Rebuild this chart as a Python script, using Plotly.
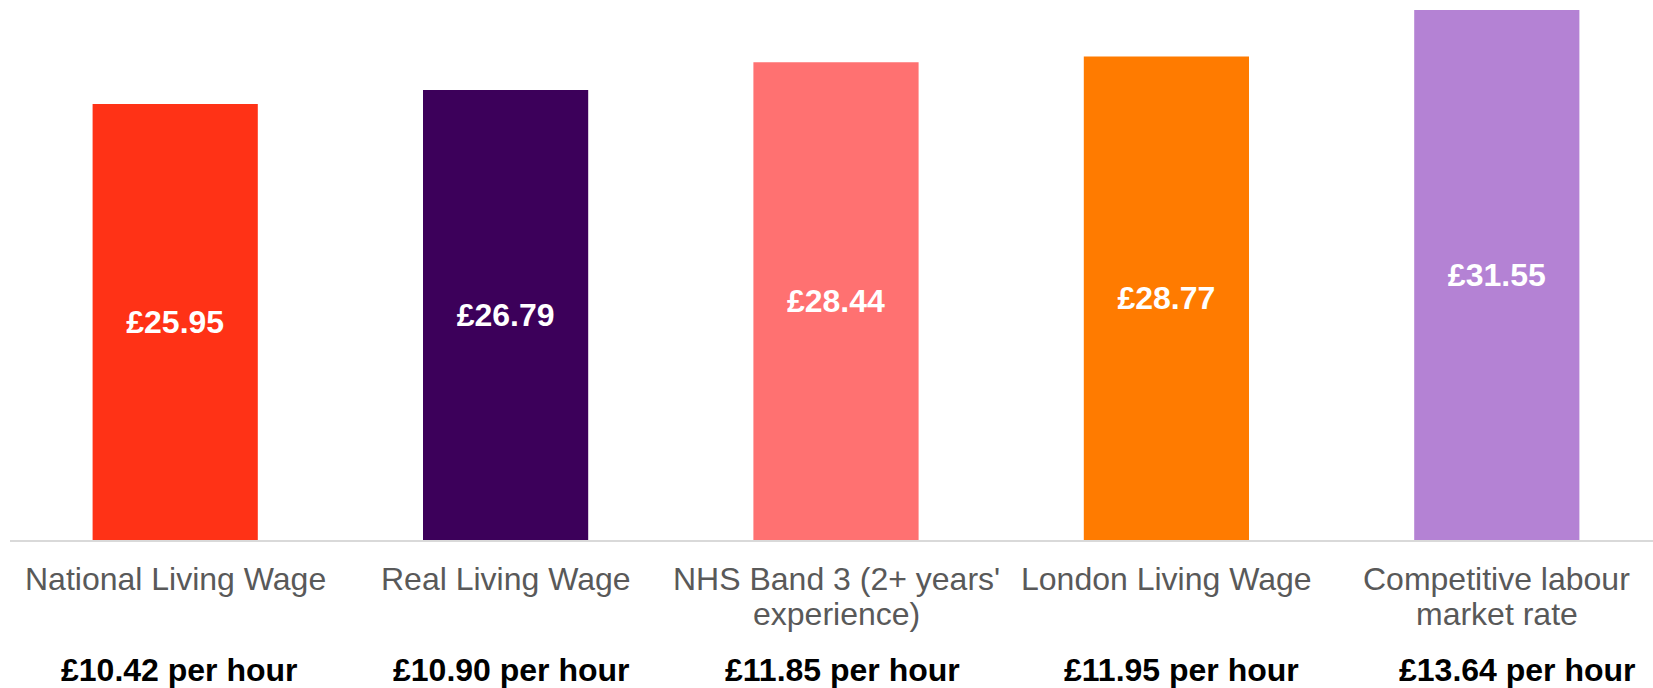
import plotly.graph_objects as go

categories = ["National Living Wage", "Real Living Wage", "NHS Band 3 (2+ years'\nexperience)",
              "London Living Wage", "Competitive labour\nmarket rate"]
weekly_values = [25.95, 26.79, 28.44, 28.77, 31.55]
hourly_labels = ["£10.42 per hour", "£10.90 per hour", "£11.85 per hour", "£11.95 per hour", "£13.64 per hour"]
bar_colors = ["#FF3216", "#3C005A", "#FF7171", "#FF7B00", "#B482D4"]
hourly_label_shift_px = [4, 6, 6, 15, 21]

W, H = 1653, 688
ML, MR, MT, MB = 10, 0, 0, 148
plot_h = H - MT - MB
FONT = "Liberation Sans, Arial, sans-serif"
FS = 32

xkeys = [c.replace("\n", " ") for c in categories]

fig = go.Figure(go.Bar(
    x=xkeys, y=weekly_values,
    marker=dict(color=bar_colors, line=dict(width=0)),
    width=0.5,
    text=[f"£{v:.2f}" for v in weekly_values],
    textposition="inside", insidetextanchor="middle",
    textfont=dict(family=FONT, size=FS, color="white", weight="bold"),
    textangle=0,
    hoverinfo="skip",
))

def py_to_paper(py):
    return (H - MB - py) / plot_h

annotations = []
for key, cat, hl, sh in zip(xkeys, categories, hourly_labels, hourly_label_shift_px):
    for i, line in enumerate(cat.split("\n")):
        annotations.append(dict(
            x=key, xref="x", y=py_to_paper(579 + 35 * i), yref="paper",
            text=line, showarrow=False, xanchor="center", yanchor="middle",
            font=dict(family=FONT, size=FS, color="#595959"),
        ))
    annotations.append(dict(
        x=key, xref="x", y=py_to_paper(670), yref="paper", xshift=sh,
        text=f"<b>{hl}</b>", showarrow=False, xanchor="center", yanchor="middle",
        font=dict(family=FONT, size=FS, color="#000000"),
    ))

plot_w = W - ML - MR
cat_w = 330.4
fig.update_layout(
    width=W, height=H,
    margin=dict(l=ML, r=MR, t=MT, b=MB, pad=0),
    paper_bgcolor="white", plot_bgcolor="white",
    showlegend=False,
    xaxis=dict(range=[-0.5, -0.5 + plot_w / cat_w], showticklabels=False, ticks="",
               showline=True, linecolor="#D9D9D9", linewidth=1.5, showgrid=False, zeroline=False,
               fixedrange=True),
    yaxis=dict(range=[0, 32.14], visible=False, showgrid=False, zeroline=False, fixedrange=True),
    annotations=annotations,
    uniformtext=dict(minsize=FS, mode="show"),
)

fig.write_html("out.html", config={"displayModeBar": False},
               post_script="document.body.style.margin='0';document.body.style.overflow='hidden';")
